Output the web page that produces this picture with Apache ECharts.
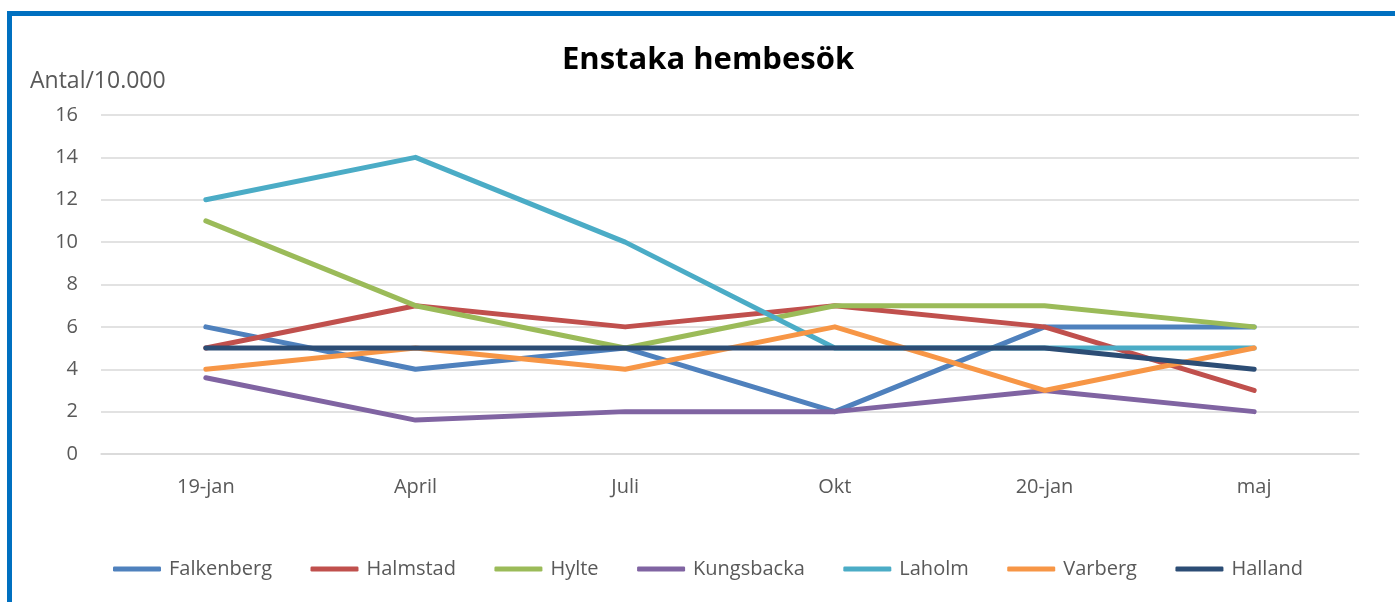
<!DOCTYPE html>
<html>
<head>
<meta charset="utf-8">
<script src="https://cdn.jsdelivr.net/npm/echarts@6/dist/echarts.min.js"></script>
<style>
  html, body { margin: 0; padding: 0; background: #fff; }
  #frame {
    position: absolute; left: 7px; top: 11px; width: 1390px; height: 600px;
    border-left: 5px solid #0070C0; border-top: 5px solid #0070C0;
  }
  #chart { position: absolute; left: 0; top: 0; width: 1395px; height: 602px; }
</style>
</head>
<body>
<div id="frame"></div>
<div id="chart"></div>
<script>
const categories = ["19-jan", "April", "Juli", "Okt", "20-jan", "maj"];
const falkenberg = [6, 4, 5, 2, 6, 6];
const halmstad = [5, 7, 6, 7, 6, 3];
const hylte = [11, 7, 5, 7, 7, 6];
const kungsbacka = [3.6, 1.6, 2, 2, 3, 2];
const laholm = [12, 14, 10, 5, 5, 5];
const varberg = [4, 5, 4, 6, 3, 5];
const halland = [5, 5, 5, 5, 5, 4];

const names = ["Falkenberg", "Halmstad", "Hylte", "Kungsbacka", "Laholm", "Varberg", "Halland"];
const values = [falkenberg, halmstad, hylte, kungsbacka, laholm, varberg, halland];
const colors = ["#4F81BD", "#C0504D", "#9BBB59", "#8064A2", "#4BACC6", "#F79646", "#2C4D75"];

const font = "'Open Sans', sans-serif";
const myChart = echarts.init(document.getElementById("chart"));

let option = {
  animation: false,
  color: colors,
  title: {
    text: "Enstaka hembesök",
    left: 703, top: 40, textAlign: "center",
    textStyle: { fontFamily: font, fontSize: 31, fontWeight: "bold", color: "#000" }
  },
  legend: {
    data: names,
    bottom: 18, left: 108,
    icon: "roundRect", itemWidth: 48, itemHeight: 5, itemGap: 38.5,
    textStyle: { fontFamily: font, fontSize: 20, color: "#595959", padding: [0, 0, 0, 3] }
  },
  grid: { left: 101, right: 36, top: 115, bottom: 148 },
  xAxis: {
    type: "category",
    data: categories,
    axisLine: { lineStyle: { color: "#d9d9d9", width: 1.5 } },
    axisTick: { show: false },
    axisLabel: { fontFamily: font, fontSize: 20, color: "#595959", margin: 23 }
  },
  yAxis: {
    type: "value",
    min: 0, max: 16, interval: 2,
    name: "Antal/10.000",
    nameLocation: "end",
    nameGap: 22,
    nameTextStyle: { fontFamily: font, fontSize: 23, color: "#595959", align: "left", padding: [0, 0, 0, -71] },
    axisLine: { show: false },
    axisTick: { show: false },
    axisLabel: { fontFamily: font, fontSize: 20, color: "#595959", margin: 23 },
    splitLine: { lineStyle: { color: "#d9d9d9", width: 1.5 } }
  },
  series: names.map((n, i) => ({
    name: n,
    type: "line",
    data: values[i],
    symbol: "none",
    lineStyle: { width: 5, cap: "round", join: "round" }
  }))
};
myChart.setOption(option);
</script>
</body>
</html>
